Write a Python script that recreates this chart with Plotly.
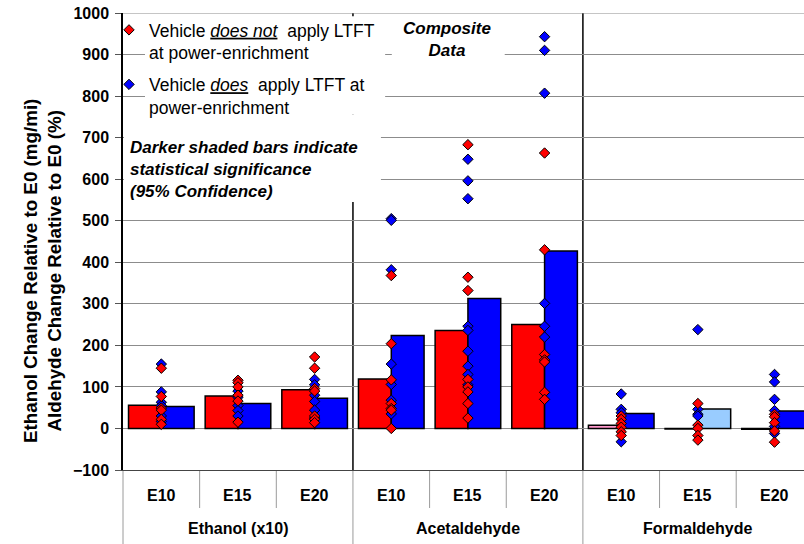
import plotly.graph_objects as go

# ---- data -------------------------------------------------------------
groups = ["Ethanol (x10)", "Acetaldehyde", "Formaldehyde"]
blends = ["E10", "E15", "E20"]

# composite (bar) values per slot: group x blend
red_bar = [56, 78, 93, 119, 236, 250, 8, -1.5, -2]
blue_bar = [53, 60, 73, 224, 313, 427, 36, 47, 42]
# statistically significant (95%) -> darker shade
red_sig = [True, True, True, True, True, True, False, False, False]
blue_sig = [True, True, True, True, True, True, True, False, True]

# individual vehicle results per slot
red_pts = [
    [145, 77, 49, 44, 22, 10],
    [116, 110, 100, 80, 66, 15],
    [172, 145, 96, 90, 30, 22, 14],
    [368, 204, 117, 60, 48, 44, 0],
    [683, 364, 332, 118, 100, 88, 60, 25],
    [663, 430, 178, 165, 160, 87, 70],
    [30, 22, 12, 3, -8, -17],
    [60, 8, 0, -17, -28],
    [34, 28, 14, -6, -33],
]
blue_pts = [
    [155, 88, 63, 55, 30, 17],
    [90, 75, 55, 43, 30],
    [118, 105, 80, 65, 44, 25],
    [505, 501, 382, 155, 106, 68, 35],
    [648, 596, 553, 246, 236, 186, 150, 130, 105],
    [943, 910, 807, 301, 246, 220],
    [83, 46, 38, -32],
    [238, 46, 34, 30],
    [130, 112, 70, 43, 5, -12],
]

y_ticks = list(range(-100, 1001, 100))

# ---- styling ------------------------------------------------------------
FONT = "Liberation Sans, Arial, sans-serif"
RED, PINK = "#FF0000", "#FF99CC"
BLUE, LIGHTBLUE = "#0000FF", "#99CCFF"
GRID = "#8C8C8C"

W, H = 804, 544
ML, MT, MB = 123, 13, 74
slot_px = 76.65
n_slots = len(groups) * len(blends)
slots = list(range(n_slots))
slot_labels = [b for g in groups for b in blends]
x_range = [-0.5, -0.5 + (W - ML) / slot_px]
plot_h = H - MT - MB
plot_w = W - ML

fig = go.Figure()

fig.add_trace(go.Bar(
    x=slots, y=red_bar, offsetgroup="r", showlegend=False,
    marker=dict(color=[RED if s else PINK for s in red_sig],
                line=dict(color="black", width=1.5)),
    hoverinfo="skip"))
fig.add_trace(go.Bar(
    x=slots, y=blue_bar, offsetgroup="b", showlegend=False,
    marker=dict(color=[BLUE if s else LIGHTBLUE for s in blue_sig],
                line=dict(color="black", width=1.5)),
    hoverinfo="skip"))


def flatten(pts):
    xs, ys = [], []
    for i, vals in enumerate(pts):
        xs += [i] * len(vals)
        ys += vals
    return xs, ys


bx, by = flatten(blue_pts)
rx, ry = flatten(red_pts)
marker_common = dict(symbol="diamond", size=8, line=dict(color="black", width=1))
fig.add_trace(go.Scatter(
    x=bx, y=by, mode="markers", legendgroup="b", legendrank=2,
    name="Vehicle <i><u>does</u></i>\u00a0 apply LTFT at<br>power-enrichment",
    marker=dict(color=BLUE, **marker_common)))
fig.add_trace(go.Scatter(
    x=rx, y=ry, mode="markers", legendgroup="r", legendrank=1,
    name="Vehicle <i><u>does not</u></i>\u00a0 apply LTFT<br>at power-enrichment",
    marker=dict(color=RED, **marker_common)))

# ---- shapes -------------------------------------------------------------
shapes = []
bottom = -MB / plot_h  # bottom of the figure in paper units

# white panels behind the text blocks (cover gridlines only)
for x0, x1, y0, y1 in [(-0.213, 2.92, 756, 992), (-0.487, 2.865, 545, 756),
                       (3.007, 4.48, 880, 992)]:
    shapes.append(dict(type="rect", xref="x", yref="y", x0=x0, x1=x1, y0=y0, y1=y1,
                       fillcolor="white", line=dict(width=0), layer="between"))
# top border line
shapes.append(dict(type="line", xref="paper", yref="y", x0=0, x1=1, y0=1000, y1=1000,
                   line=dict(color=GRID, width=1), layer="above"))
# group dividers inside the plot
for xb in (2.5, 5.5):
    shapes.append(dict(type="line", xref="x", yref="paper", x0=xb, x1=xb, y0=0, y1=1,
                       line=dict(color="black", width=1.5), layer="below"))
# category table lines below the axis
for xb in (2.5, 5.5):
    shapes.append(dict(type="line", xref="x", yref="paper", x0=xb, x1=xb, y0=bottom, y1=0,
                       line=dict(color="#9A9A9A", width=1), layer="below"))
shapes.append(dict(type="line", xref="paper", yref="paper", x0=0, x1=0, y0=bottom, y1=0,
                   line=dict(color="#9A9A9A", width=1), layer="below"))
for xb in (0.5, 1.5, 3.5, 4.5, 6.5, 7.5):
    shapes.append(dict(type="line", xref="x", yref="paper", x0=xb, x1=xb,
                       y0=-38 / plot_h, y1=0,
                       line=dict(color="#9A9A9A", width=1), layer="below"))

# ---- annotations --------------------------------------------------------
ann = []
lbl_font = dict(family=FONT, size=16, color="black", weight="bold")
for i, lab in zip(slots, slot_labels):
    ann.append(dict(x=i, y=-25 / plot_h, xref="x", yref="paper", text=lab,
                    showarrow=False, font=lbl_font, xanchor="center", yanchor="middle"))
for gi, g in enumerate(groups):
    ann.append(dict(x=gi * 3 + 1, y=-58 / plot_h, xref="x", yref="paper", text=g,
                    showarrow=False, font=lbl_font, xanchor="center", yanchor="middle"))

ann.append(dict(x=-81 / plot_w, y=(470 - 271) / plot_h, xref="paper", yref="paper",
                text="Ethanol Change Relative to E0 (mg/mi)<br>Aldehyde Change Relative to E0 (%)",
                textangle=-90, showarrow=False,
                font=dict(family=FONT, size=18.8, color="black", weight="bold"),
                xanchor="center", yanchor="middle"))
ann.append(dict(x=-0.43, y=703, xref="x", yref="y", xanchor="left", yanchor="top", align="left",
                text="<b><i>Darker shaded bars indicate<br>statistical significance<br>(95% Confidence)</i></b>",
                showarrow=False, font=dict(family=FONT, size=17, color="black")))
ann.append(dict(x=3.727, y=990, xref="x", yref="y", xanchor="center", yanchor="top",
                text="<b><i>Composite<br>Data</i></b>", showarrow=False,
                font=dict(family=FONT, size=17, color="black")))

fig.update_layout(
    width=W, height=H,
    margin=dict(l=ML, r=0, t=MT, b=MB, pad=0),
    paper_bgcolor="white", plot_bgcolor="rgba(0,0,0,0)",
    font=dict(family=FONT, color="black"),
    barmode="group", bargap=0.144, bargroupgap=0,
    shapes=shapes, annotations=ann,
    showlegend=True,
    legend=dict(x=-14 / plot_w, y=1 + 1 / plot_h, xanchor="left", yanchor="top",
                bgcolor="rgba(0,0,0,0)", font=dict(family=FONT, size=17.5, color="black"),
                valign="top", tracegroupgap=6, traceorder="grouped"),
)
fig.update_xaxes(range=x_range, showticklabels=False, ticks="", showgrid=False,
                 zeroline=False, showline=True, linecolor="#444444", linewidth=1)
fig.update_yaxes(range=[-100, 1000], tickvals=y_ticks, showgrid=True, gridcolor=GRID,
                 gridwidth=1, zeroline=False, showline=True, linecolor="black",
                 linewidth=1.5, ticks="outside", ticklen=6, tickcolor="#555555",
                 ticklabelstandoff=3,
                 tickfont=dict(family=FONT, size=16, color="black", weight="bold"))

fig.write_html("out.html")
